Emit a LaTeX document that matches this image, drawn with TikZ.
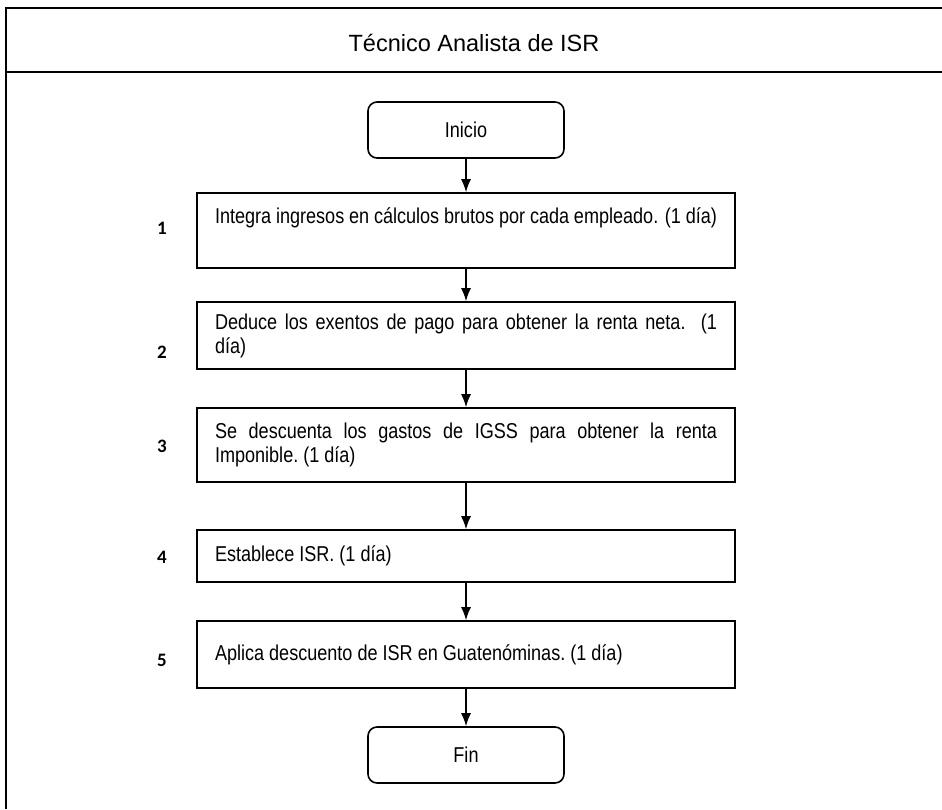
\documentclass[tikz,border=0pt]{standalone}
\usepackage{fontspec}
\setmainfont{Liberation Sans}
\newfontfamily\angosta{Liberation Sans}[FakeStretch=0.84]
\newfontfamily\cifras{Carlito}
\usetikzlibrary{arrows.meta}

\begin{document}
\begin{tikzpicture}[x=1pt, y=-1pt,
        >={Latex[length=13pt,width=10pt]},   % Pfeilspitzen
        paso/.style={draw, line width=1.6pt, text width=502pt, align=justify,
            inner xsep=18pt, inner ysep=3pt, font=\angosta\fontsize{21.5}{24}\selectfont},
        extremo/.style={draw, line width=1.6pt, rounded corners=9pt, minimum width=196pt,
            minimum height=56pt, font=\angosta\fontsize{21.5}{24}\selectfont},
        numero/.style={font=\cifras\bfseries\fontsize{19}{21}\selectfont},
        flecha/.style={->, line width=1.4pt},
        marco/.style={line width=2.2pt}]
    \useasboundingbox (0,0) rectangle (942,809);
    % Rahmen
    \draw[marco] (942,8) -- (6,8) -- (6,809);
    \draw[marco] (6,72) -- (942,72);
    \node[anchor=base, font=\fontsize{23.5}{26}\selectfont] (titulo) at (474,51) {Técnico Analista de ISR};
    % Knoten
    \node[extremo] (inicio) at (466,130) {Inicio};
    \node[paso, minimum height=75pt, text depth=29pt] (p1) at (466,230.5) {Integra ingresos en cálculos brutos por cada empleado. (1 día)};
    \node[paso, minimum height=67pt] (p2) at (466,335.5) {Deduce los exentos de pago para obtener la renta neta.\ \ (1\linebreak día)};
    \node[paso, minimum height=74pt] (p3) at (466,445) {Se descuenta los gastos de IGSS para obtener la renta\linebreak Imponible.\ (1 día)};
    \node[paso, minimum height=52pt] (p4) at (466,556) {Establece ISR.\ (1 día)};
    \node[paso, minimum height=67pt] (p5) at (466,654.5) {Aplica descuento de ISR en Guatenóminas.\ (1 día)};
    \node[extremo] (fin) at (466,755) {Fin};
    % Nummern
    \node[numero] (n1) at (162,228) {1};
    \node[numero] (n2) at (162,352) {2};
    \node[numero] (n3) at (162,446) {3};
    \node[numero] (n4) at (162,557) {4};
    \node[numero] (n5) at (162,660) {5};
    % Pfeile
    \draw[flecha] (inicio) -- (p1);
    \draw[flecha] (p1) -- (p2);
    \draw[flecha] (p2) -- (p3);
    \draw[flecha] (p3) -- (p4);
    \draw[flecha] (p4) -- (p5);
    \draw[flecha] (p5) -- (fin);
\end{tikzpicture}
\end{document}
